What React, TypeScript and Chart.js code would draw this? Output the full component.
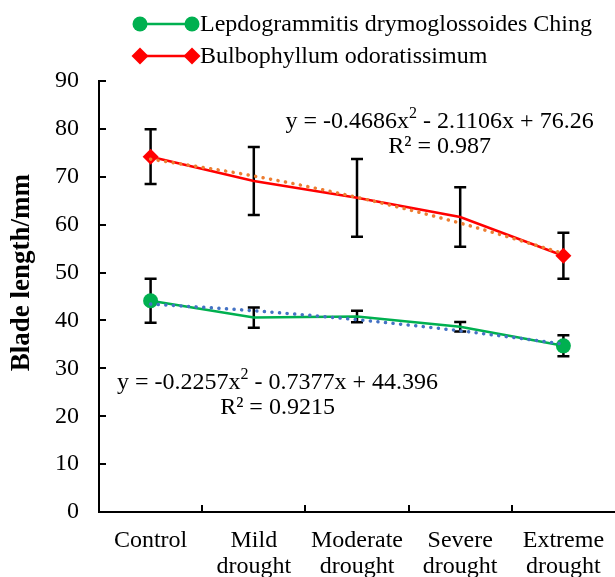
import React, { useEffect, useRef } from 'react';
import { Chart, registerables } from 'chart.js';

Chart.register(...registerables);

const categories: (string | string[])[] = [
  'Control',
  ['Mild', 'drought'],
  ['Moderate', 'drought'],
  ['Severe', 'drought'],
  ['Extreme', 'drought'],
];

const lepdoName = 'Lepdogrammitis drymoglossoides Ching';
const bulboName = 'Bulbophyllum odoratissimum';
const yTitle = 'Blade length/mm';

const lepdoMean = [44.1, 40.6, 40.8, 38.7, 34.7];
const lepdoErr = [4.6, 2.1, 1.2, 1.0, 2.2];
const bulboMean = [74.2, 69.1, 65.6, 61.6, 53.5];
const bulboErr = [5.7, 7.1, 8.1, 6.2, 4.8];

// polynomial trend lines
const lepdoTrend = [43.43, 42.02, 40.15, 37.83, 35.06];
const bulboTrend = [73.68, 70.16, 65.71, 60.32, 53.99];

const lepdoMarkers = [7.5, 0, 0, 0, 7.5];
const bulboMarkers = [8, 0, 0, 0, 8];

const yMin = 0;
const yMax = 90;
const yStep = 10;

const bulboEq = [
  [{ t: 'y = -0.4686x' }, { t: '2', sup: true }, { t: ' - 2.1106x + 76.26' }],
  [{ t: 'R² = 0.987' }],
];
const lepdoEq = [
  [{ t: 'y = -0.2257x' }, { t: '2', sup: true }, { t: ' - 0.7377x + 44.396' }],
  [{ t: 'R² = 0.9215' }],
];

const GREEN = '#00B050';
const RED = '#FF0000';
const ORANGE = '#ED7D31';
const BLUE = '#4472C4';
const FONT = "'Liberation Serif', 'Times New Roman', serif";
const TXT = 24;

type Seg = { t: string; sup?: boolean };

function drawRich(ctx: CanvasRenderingContext2D, segs: Seg[], cx: number, cy: number, size: number) {
  const widths = segs.map((s) => {
    ctx.font = `${s.sup ? Math.round(size * 0.65) : size}px ${FONT}`;
    return ctx.measureText(s.t).width;
  });
  const total = widths.reduce((a, b) => a + b, 0);
  let x = cx - total / 2;
  segs.forEach((s, i) => {
    ctx.font = `${s.sup ? Math.round(size * 0.65) : size}px ${FONT}`;
    ctx.textAlign = 'left';
    ctx.textBaseline = 'middle';
    ctx.fillStyle = '#000';
    ctx.fillText(s.t, x, s.sup ? cy - size * 0.33 : cy);
    x += widths[i];
  });
}

function drawMarker(ctx: CanvasRenderingContext2D, kind: 'circle' | 'diamond', x: number, y: number, r: number, color: string) {
  ctx.fillStyle = color;
  ctx.beginPath();
  if (kind === 'circle') {
    ctx.arc(x, y, r, 0, Math.PI * 2);
  } else {
    ctx.moveTo(x, y - r);
    ctx.lineTo(x + r, y);
    ctx.lineTo(x, y + r);
    ctx.lineTo(x - r, y);
    ctx.closePath();
  }
  ctx.fill();
}

const extrasPlugin = {
  id: 'extras',
  beforeDatasetsDraw(chart: any) {
    const ctx = chart.ctx as CanvasRenderingContext2D;
    const xs = chart.scales.x;
    const ys = chart.scales.y;
    ctx.save();
    ctx.strokeStyle = '#000';
    ctx.lineWidth = 2.5;
    const bars = [
      { m: lepdoMean, e: lepdoErr },
      { m: bulboMean, e: bulboErr },
    ];
    bars.forEach(({ m, e }) => {
      m.forEach((v, i) => {
        const px = xs.getPixelForTick(i);
        const top = ys.getPixelForValue(v + e[i]);
        const bot = ys.getPixelForValue(v - e[i]);
        ctx.beginPath();
        ctx.moveTo(px, top);
        ctx.lineTo(px, bot);
        ctx.moveTo(px - 6, top);
        ctx.lineTo(px + 6, top);
        ctx.moveTo(px - 6, bot);
        ctx.lineTo(px + 6, bot);
        ctx.stroke();
      });
    });
    ctx.restore();
  },
  afterDraw(chart: any) {
    const ctx = chart.ctx as CanvasRenderingContext2D;
    const xs = chart.scales.x;
    const ys = chart.scales.y;
    const area = chart.chartArea;
    ctx.save();
    // inward tick marks
    ctx.strokeStyle = '#000';
    ctx.lineWidth = 2;
    for (let v = yMin; v <= yMax; v += yStep) {
      const py = Math.round(ys.getPixelForValue(v));
      ctx.beginPath();
      ctx.moveTo(area.left, py);
      ctx.lineTo(area.left + 7, py);
      ctx.stroke();
    }
    const step = xs.getPixelForTick(1) - xs.getPixelForTick(0);
    for (let i = 0; i < categories.length - 1; i++) {
      const px = Math.round(xs.getPixelForTick(i) + step / 2);
      ctx.beginPath();
      ctx.moveTo(px, area.bottom);
      ctx.lineTo(px, area.bottom - 7);
      ctx.stroke();
    }

    // y-axis title (sits a little above the axis centre, as in the source)
    ctx.save();
    ctx.translate(22, ys.getPixelForValue(50));
    ctx.rotate(-Math.PI / 2);
    ctx.font = `bold 27px ${FONT}`;
    ctx.fillStyle = '#000';
    ctx.textAlign = 'center';
    ctx.textBaseline = 'middle';
    ctx.fillText(yTitle, 0, 0);
    ctx.restore();

    // equations
    const at = (idx: number) => xs.getPixelForTick(0) + idx * step;
    drawRich(ctx, bulboEq[0], at(2.8), ys.getPixelForValue(81.4), TXT);
    drawRich(ctx, bulboEq[1], at(2.8), ys.getPixelForValue(76.2), TXT);
    drawRich(ctx, lepdoEq[0], at(1.23), ys.getPixelForValue(27.1), TXT);
    drawRich(ctx, lepdoEq[1], at(1.23), ys.getPixelForValue(21.7), TXT);

    // legend
    const items = [
      { name: lepdoName, color: GREEN, kind: 'circle' as const, r: 7.5, y: 24 },
      { name: bulboName, color: RED, kind: 'diamond' as const, r: 8.5, y: 56 },
    ];
    items.forEach((it) => {
      ctx.strokeStyle = it.color;
      ctx.lineWidth = 2.5;
      ctx.beginPath();
      ctx.moveTo(140, it.y);
      ctx.lineTo(192, it.y);
      ctx.stroke();
      drawMarker(ctx, it.kind, 140, it.y, it.r, it.color);
      drawMarker(ctx, it.kind, 192, it.y, it.r, it.color);
      ctx.fillStyle = '#000';
      ctx.font = `${TXT}px ${FONT}`;
      ctx.textAlign = 'left';
      ctx.textBaseline = 'middle';
      ctx.fillText(it.name, 200, it.y + 1);
    });
    ctx.restore();
  },
};

export default function App() {
  const ref = useRef<HTMLCanvasElement | null>(null);
  useEffect(() => {
    if (!ref.current) return;
    const chart = new Chart(ref.current, {
      type: 'line',
      data: {
        labels: categories as any,
        datasets: [
          {
            label: lepdoName + ' trend',
            data: lepdoTrend,
            borderColor: BLUE,
            borderWidth: 3.5,
            borderDash: [0.1, 7.5],
            borderCapStyle: 'round',
            pointRadius: 0,
            cubicInterpolationMode: 'monotone',
            fill: false,
            order: 0,
          },
          {
            label: bulboName + ' trend',
            data: bulboTrend,
            borderColor: ORANGE,
            borderWidth: 3.5,
            borderDash: [0.1, 7.5],
            borderCapStyle: 'round',
            pointRadius: 0,
            cubicInterpolationMode: 'monotone',
            fill: false,
            order: 0,
          },
          {
            label: lepdoName,
            data: lepdoMean,
            borderColor: GREEN,
            backgroundColor: GREEN,
            borderWidth: 2.5,
            pointStyle: 'circle',
            pointRadius: lepdoMarkers,
            pointBorderWidth: 0,
            tension: 0,
            fill: false,
            order: 1,
          },
          {
            label: bulboName,
            data: bulboMean,
            borderColor: RED,
            backgroundColor: RED,
            borderWidth: 2.5,
            pointStyle: 'rectRot',
            pointRadius: bulboMarkers,
            pointBorderWidth: 0,
            tension: 0,
            fill: false,
            order: 1,
          },
        ],
      },
      options: {
        animation: false,
        responsive: false,
        layout: { autoPadding: false, padding: { top: 81, right: 0, left: 0, bottom: 0 } },
        plugins: {
          legend: { display: false },
          tooltip: { enabled: false },
        },
        scales: {
          x: {
            type: 'category',
            offset: true,
            grid: { display: false, drawTicks: false },
            border: { display: true, color: '#000', width: 2 },
            ticks: {
              color: '#000',
              font: { family: FONT, size: TXT, lineHeight: 1.08 },
              padding: 16,
              maxRotation: 0,
              autoSkip: false,
            },
            afterFit: (s: any) => {
              s.height = 65;
              s.paddingLeft = 0;
              s.paddingRight = 0;
            },
          },
          y: {
            min: yMin,
            max: yMax,
            grid: { display: false, drawTicks: false },
            border: { display: true, color: '#000', width: 2 },
            ticks: {
              stepSize: yStep,
              color: '#000',
              font: { family: FONT, size: TXT },
              padding: 20,
            },
            title: { display: false },
            afterFit: (s: any) => {
              s.width = 99;
            },
          },
        },
      },
      plugins: [extrasPlugin],
    });
    return () => chart.destroy();
  }, []);
  return (
    <div style={{ position: 'absolute', left: 0, top: 0, width: 615, height: 577 }}>
      <canvas ref={ref} width={615} height={577} />
    </div>
  );
}
